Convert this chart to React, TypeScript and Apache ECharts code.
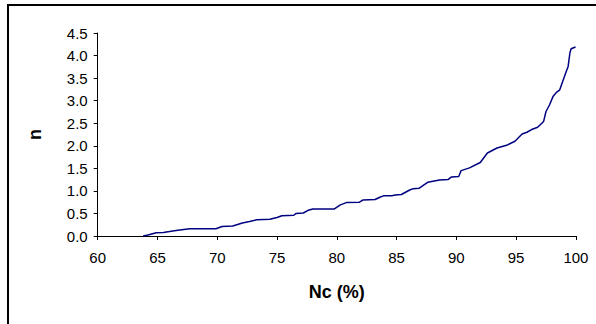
import React, { useEffect, useRef } from "react";
import * as echarts from "echarts";

const ncValues = [
  63.8, 64.2, 64.9, 65.5, 66.0, 66.7, 67.7, 69.9, 70.4, 71.3, 72.1, 72.7, 73.3, 74.4, 75.0, 75.4,
  76.4, 76.6, 77.2, 77.6, 78.0, 79.8, 80.3, 80.8, 81.9, 82.2, 83.2, 83.6, 83.9, 84.6, 84.9, 85.4,
  86.1, 86.4, 86.9, 87.6, 88.6, 89.3, 89.6, 90.2, 90.4, 91.1, 92.0, 92.6, 93.4, 94.2, 94.9, 95.5,
  95.9, 96.3, 96.8, 97.3, 97.5, 97.8, 98.1, 98.4, 98.65, 98.9, 99.2, 99.35, 99.5, 99.6, 99.97,
];
const nValues = [
  0, 0.02, 0.07, 0.08, 0.1, 0.13, 0.16, 0.16, 0.21, 0.22, 0.29, 0.32, 0.36, 0.37, 0.41, 0.45,
  0.46, 0.5, 0.51, 0.57, 0.6, 0.6, 0.69, 0.74, 0.75, 0.8, 0.81, 0.86, 0.89, 0.89, 0.91, 0.92,
  1.02, 1.05, 1.06, 1.19, 1.24, 1.25, 1.31, 1.32, 1.45, 1.51, 1.63, 1.84, 1.95, 2.01, 2.1, 2.26,
  2.3, 2.36, 2.41, 2.54, 2.76, 2.91, 3.1, 3.19, 3.24, 3.43, 3.65, 3.76, 4.06, 4.15, 4.19,
];
const xTitle = "Nc (%)";
const yTitle = "n";

export default function App() {
  const ref = useRef<HTMLDivElement>(null);
  useEffect(() => {
    if (!ref.current) return;
    const chart = echarts.init(ref.current, null, { renderer: "svg" });
    const font = "Liberation Sans, Arial, sans-serif";
    const axisCommon = {
      axisLine: { show: true, onZero: false, lineStyle: { color: "#000", width: 1 } },
      axisTick: { show: true, inside: false, length: 4, lineStyle: { color: "#000", width: 1 } },
      splitLine: { show: false },
    };
    chart.setOption({
      animation: false,
      backgroundColor: "#fff",
      graphic: [
        {
          type: "rect",
          shape: { x: 8, y: 5, width: 700, height: 500 },
          style: { fill: "none", stroke: "#000", lineWidth: 2 },
          silent: true,
        },
      ],
      grid: { left: 97.7, right: 20.1, top: 33, bottom: 88 },
      xAxis: {
        type: "value",
        min: 60,
        max: 100,
        interval: 5,
        ...axisCommon,
        axisLabel: { color: "#000", fontFamily: font, fontSize: 15, margin: 14 },
        name: xTitle,
        nameLocation: "middle",
        nameGap: 47,
        nameTextStyle: { color: "#000", fontFamily: font, fontSize: 18, fontWeight: "bold" },
      },
      yAxis: {
        type: "value",
        min: 0,
        max: 4.5,
        interval: 0.5,
        ...axisCommon,
        axisLabel: {
          color: "#000",
          fontFamily: font,
          fontSize: 15,
          margin: 10,
          formatter: (v: number) => v.toFixed(1),
        },
        name: yTitle,
        nameLocation: "middle",
        nameGap: 54,
        nameTextStyle: { color: "#000", fontFamily: font, fontSize: 18, fontWeight: "bold" },
      },
      series: [
        {
          type: "line",
          data: ncValues.map((x, i) => [x, nValues[i]]),
          showSymbol: false,
          symbol: "none",
          lineStyle: { color: "#000080", width: 1.5 },
        },
      ],
    });
    return () => chart.dispose();
  }, []);
  return (
    <div
      ref={ref}
      style={{ position: "fixed", left: 0, top: 0, width: 596, height: 324 }}
    />
  );
}
